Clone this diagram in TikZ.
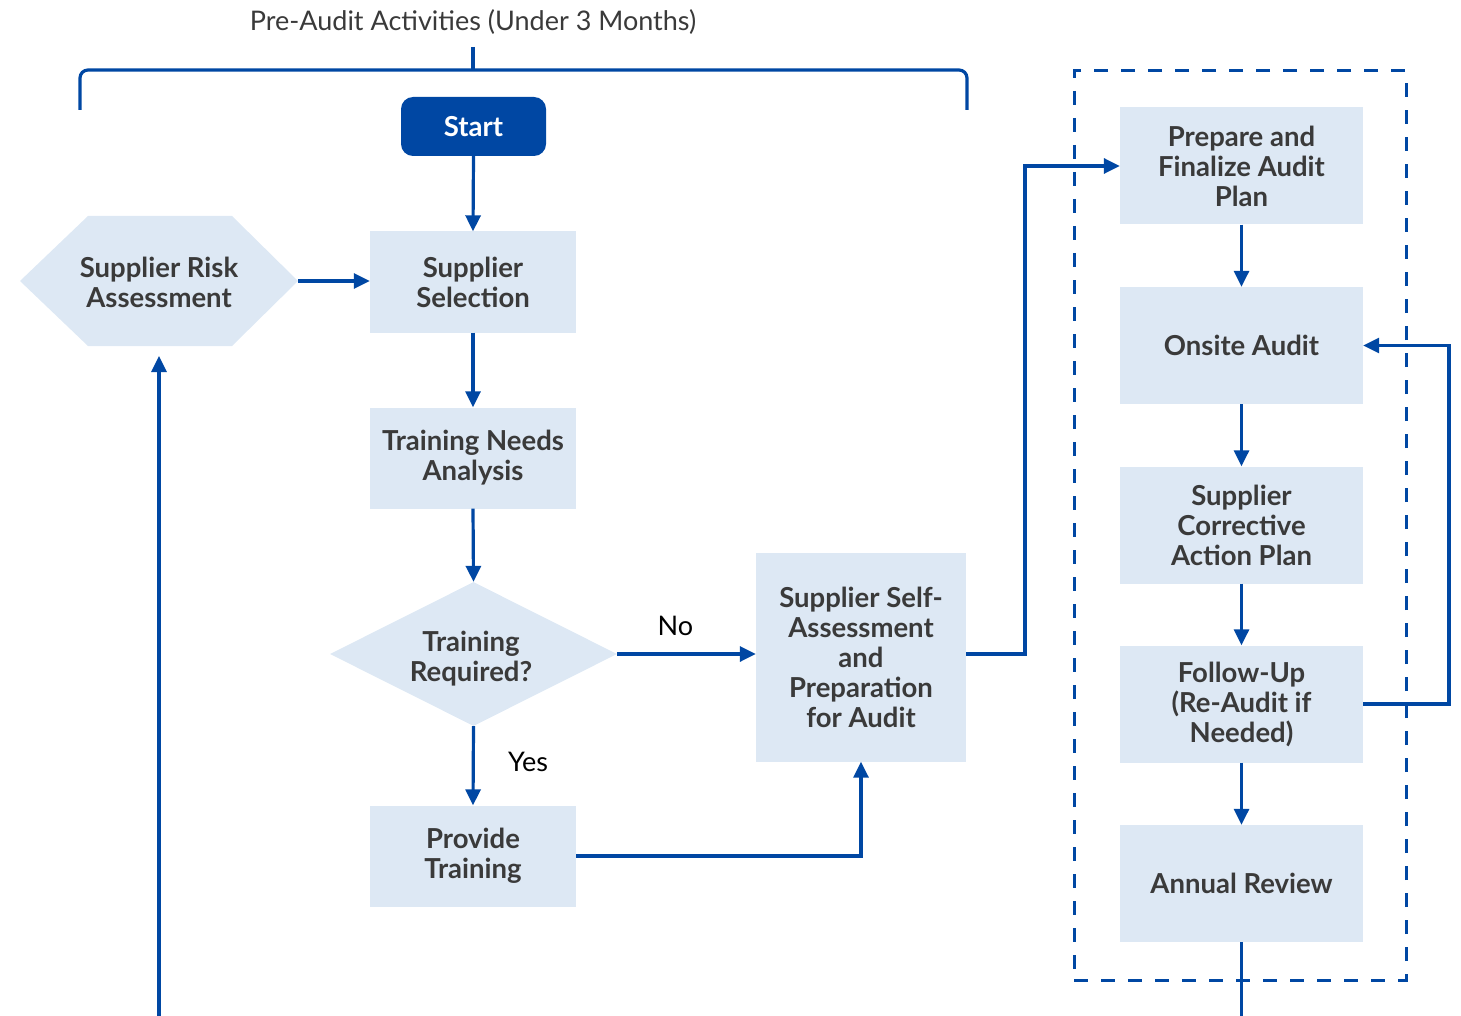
\documentclass[tikz,border=0pt]{standalone}
\usepackage{fontspec}
\setmainfont{Lato}
\usetikzlibrary{arrows.meta,shapes.geometric}
\definecolor{fillc}{HTML}{DDE8F4}
\definecolor{blu}{HTML}{0047A3}
\definecolor{txt}{HTML}{3A3A3A}
\tikzset{
  box/.style={draw=none,fill=fillc,text=txt,font=\fontsize{27.5}{30}\selectfont\bfseries,align=center,inner sep=0pt},
  conn/.style={draw=blu,line width=3.2pt},
  arr/.style={conn,-{Triangle[length=16pt,width=15pt]}},
  lbl/.style={font=\fontsize{27}{30}\selectfont,text=black}
}
\begin{document}
\begin{tikzpicture}[x=1pt,y=-1pt]
\useasboundingbox (0,0) rectangle (1461,1016);
% title and brace
\node[font=\fontsize{27}{30}\selectfont,text=txt] (title) at (473,22) {Pre-Audit Activities (Under 3 Months)};
\coordinate (bt) at (473,47);
\coordinate (bm) at (473,70);
\draw[conn] (bt) -- (bm);
\draw[conn,rounded corners=8pt] (80,110) -- (80,70) -- (967,70) -- (967,110);
% start
\node[fill=blu,rounded corners=12pt,minimum width=145pt,minimum height=59pt,inner sep=0pt,text=white,font=\fontsize{27.5}{30}\selectfont\bfseries] (start) at (473.5,126.5) {Start};
% left column
\node[box,minimum width=206pt,minimum height=101pt] (sel) at (473,282) {Supplier\\Selection};
\node[box,minimum width=206pt,minimum height=101pt] (tna) at (473,458) {Training Needs\\Analysis};
\node[box,shape=diamond,minimum width=287pt,minimum height=144pt,aspect=2] (dec) at (473.5,654) {};
\node[box,fill=none] (dect) at (471,659) {Training\\Required?};
\node[box,minimum width=206pt,minimum height=101pt] (pt) at (473,856) {Provide\\Training};
\draw[box] (20,281) -- (88,216) -- (232,216) -- (298,281) -- (232,346) -- (88,346) -- cycle;
\node[box,fill=none,inner sep=0pt] (risk) at (159,282) {Supplier Risk\\Assessment};
\coordinate (riskE) at (298,281);
\coordinate (riskS) at (159,356);
\node[box,minimum width=210pt,minimum height=209pt] (self) at (861,657) {Supplier Self-\\Assessment\\and\\Preparation\\for Audit};
% right column
\node[draw=blu,line width=3pt,dash pattern=on 14pt off 13pt,minimum width=332pt,minimum height=909pt,inner sep=0pt] (frame) at (1240,525.5) {};
\node[box,minimum width=243pt,minimum height=117pt] (prep) at (1241.5,166) {Prepare and\\Finalize Audit\\Plan};
\node[box,minimum width=243pt,minimum height=117pt] (onsite) at (1241.5,345.5) {Onsite Audit};
\node[box,minimum width=243pt,minimum height=117pt] (cap) at (1241.5,525) {Supplier\\Corrective\\Action Plan};
\node[box,minimum width=243pt,minimum height=117pt] (fu) at (1241.5,704) {Follow-Up\\(Re-Audit if\\Needed)};
\node[box,minimum width=243pt,minimum height=117pt] (ar) at (1241.5,883.5) {Annual Review};
% connectors
\draw[arr] (start.south) -- (sel.north);
\draw[arr] (riskE) -- (sel.west |- riskE);
\draw[arr] (sel.south) -- (tna.north);
\draw[arr] (tna.south) -- (dec.north);
\draw[arr] (dec.east) -- (self.west |- dec.east) node[lbl,pos=0.42,above=13pt] {No};
\draw[arr] (dec.south) -- (pt.north) node[lbl,pos=0.45,right=30pt] {Yes};
\draw[arr] (pt.east) -| (self.south);
\draw[arr] (self.east |- dec.east) -- (1025,654) |- (prep.west);
\draw[arr] (prep.south) -- (onsite.north);
\draw[arr] (onsite.south) -- (cap.north);
\draw[arr] (cap.south) -- (fu.north);
\draw[arr] (fu.south) -- (ar.north);
\draw[arr] (fu.east) -- (1449,704) |- (onsite.east);
\coordinate (arEnd) at (1241.5,1016);
\draw[conn] (ar.south) -- (arEnd);
\coordinate (riskIn) at (159,1016);
\draw[arr] (riskIn) -- (riskS);
\end{tikzpicture}
\end{document}
